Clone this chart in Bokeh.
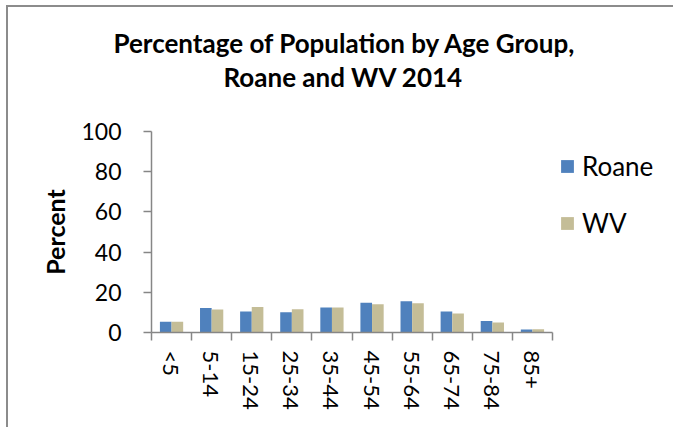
import numpy as np
from bokeh.plotting import figure
from bokeh.models import Range1d, FixedTicker, Title, ColumnDataSource
from bokeh.transform import dodge
from bokeh.embed import file_html
from bokeh.resources import INLINE

categories = ["<5", "5-14", "15-24", "25-34", "35-44", "45-54", "55-64", "65-74", "75-84", "85+"]
roane = [5.3, 12.2, 10.4, 10.1, 12.4, 14.8, 15.5, 10.4, 5.7, 1.5]
wv = [5.3, 11.4, 12.7, 11.6, 12.4, 14.1, 14.6, 9.4, 5.0, 1.6]
y_ticks = [0, 20, 40, 60, 80, 100]
series_names = ["Roane", "WV"]
series_colors = ["#4F81BD", "#C4BD97"]
title_lines = ["Percentage of Population by Age Group,", "Roane and WV 2014"]
y_label = "Percent"

FONT = "Lato"
AXIS_GRAY = "#868686"

idx = list(range(len(categories)))
source = ColumnDataSource(dict(x=idx, roane=roane, wv=wv))

p = figure(
    frame_width=401, frame_height=201,
    min_border_left=143, min_border_right=110, min_border_top=124, min_border_bottom=95,
    x_range=Range1d(-0.5, len(categories) - 0.5), y_range=Range1d(0, 100),
    output_backend="svg", toolbar_location=None,
)
p.outline_line_color = None
p.grid.visible = False
p.background_fill_color = "white"
p.border_fill_color = "white"

bw = 0.29
r1 = p.vbar(x=dodge("x", -bw / 2, range=p.x_range), top="roane", width=bw, source=source,
            fill_color=series_colors[0], line_color=None, legend_label=series_names[0])
r2 = p.vbar(x=dodge("x", bw / 2, range=p.x_range), top="wv", width=bw, source=source,
            fill_color=series_colors[1], line_color=None, legend_label=series_names[1])

# x axis
xa = p.xaxis[0]
xa.ticker = FixedTicker(ticks=idx, minor_ticks=[i - 0.5 for i in range(len(categories) + 1)])
xa.major_label_overrides = {i: c for i, c in zip(idx, categories)}
xa.major_label_orientation = "vertical"
xa.major_tick_in = 0
xa.major_tick_out = 0
xa.minor_tick_in = 0
xa.minor_tick_out = 8
xa.minor_tick_line_color = AXIS_GRAY
xa.minor_tick_line_width = 1.5
xa.major_label_standoff = 10
xa.axis_line_color = AXIS_GRAY
xa.axis_line_width = 1.5
xa.major_label_text_font = FONT
xa.major_label_text_font_size = "22px"
xa.major_label_text_color = "black"

# y axis
ya = p.yaxis[0]
ya.ticker = FixedTicker(ticks=y_ticks)
ya.major_tick_in = 0
ya.major_tick_out = 8
ya.minor_tick_line_color = None
ya.major_tick_line_color = AXIS_GRAY
ya.major_tick_line_width = 1.5
ya.axis_line_color = AXIS_GRAY
ya.axis_line_width = 1.5
ya.major_label_standoff = 22
ya.major_label_text_font = FONT
ya.major_label_text_font_size = "23px"
ya.major_label_text_color = "black"
ya.axis_label = y_label
ya.axis_label_text_font = FONT
ya.axis_label_text_font_style = "bold"
ya.axis_label_text_font_size = "25px"
ya.axis_label_text_color = "black"
ya.axis_label_standoff = 8

# legend moved into the right panel
lg = p.legend[0]
p.center.remove(lg)
p.add_layout(lg, "right")
lg.location = (7, 93)
lg.orientation = "vertical"
lg.border_line_color = None
lg.background_fill_alpha = 0
lg.padding = 0
lg.margin = 0
lg.glyph_width = 16
lg.glyph_height = 16
lg.label_standoff = 7
lg.spacing = 25
lg.label_text_font = FONT
lg.label_text_font_size = "26px"
lg.label_text_color = "black"
lg.label_text_baseline = "middle"

# two-line title; the first item added above sits closest to the plot (a blank spacer)
title_style = dict(align="left", text_font=FONT, text_font_style="bold",
                   text_font_size="26px", text_color="black")
p.add_layout(Title(text=" ", standoff=5, **title_style), "above")
p.add_layout(Title(text=title_lines[1], offset=72, standoff=0, **title_style), "above")
p.add_layout(Title(text=title_lines[0], offset=-38, standoff=0, **title_style), "above")

p.styles = {"border-left": "2px solid #8c8c8c", "border-top": "2px solid #8c8c8c",
            "margin-left": "6px", "margin-top": "5px"}

open("out.html", "w").write(file_html(p, INLINE))
